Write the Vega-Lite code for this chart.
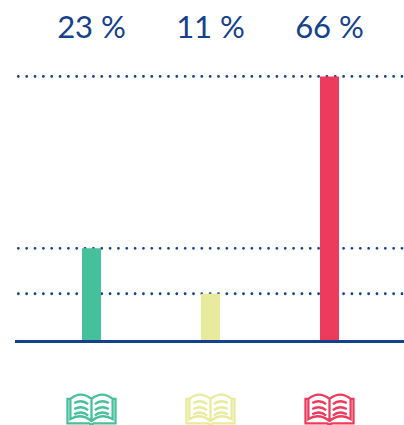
{"$schema":"https://vega.github.io/schema/vega-lite/v6.json","width":389,"height":425,"autosize":"none","padding":{"left":15,"top":0,"right":0,"bottom":0},"background":"white","view":{"stroke":null},
"data":{"values":[{"label":"23 %","value":23.2},{"label":"11 %","value":11.9},{"label":"66 %","value":66}]},
"layer":[
{"mark":{"type":"rule","stroke":"#15418c","strokeWidth":2.8,"strokeDash":[0.01,8.33],"strokeDashOffset":6.33,"strokeCap":"round"},"encoding":{"y":{"field":"value","type":"quantitative","scale":{"domain":[-20.9,84.9],"range":[425.5,0.5],"nice":false,"zero":false},"axis":null}}},
{"mark":{"type":"bar","size":19,"clip":false},"encoding":{"x":{"field":"label","type":"nominal","sort":null,"scale":{"range":[17,374],"paddingInner":0,"paddingOuter":0},"axis":null},"y":{"field":"value","type":"quantitative","axis":null},"y2":{"datum":0},"color":{"field":"label","type":"nominal","sort":null,"scale":{"range":["#45c09a","#e8eb9c","#ec3b5c"]},"legend":null}}},
{"mark":{"type":"rule","stroke":"#15418c","strokeWidth":3},"encoding":{"y":{"datum":0}}},
{"mark":{"type":"text","font":"Lato","fontWeight":400,"fontSize":31,"baseline":"middle","align":"center","color":"#15418c"},"encoding":{"x":{"field":"label","type":"nominal","sort":null},"y":{"datum":77.8},"text":{"field":"label"}}},
{"mark":{"type":"point","filled":false,"strokeWidth":2.3,"opacity":1,"shape":"M-0.88,-0.42 H-1 V0.6 H-0.1 Q0,0.68 0.1,0.6 H1 V-0.42 H0.88 M0,-0.42 Q-0.45,-0.78 -0.88,-0.42 V0.42 Q-0.45,0.15 0,0.5 Q0.45,0.15 0.88,0.42 V-0.42 Q0.45,-0.78 0,-0.42 V0.5 M-0.72,-0.25 Q-0.4,-0.42 -0.14,-0.2 M-0.72,0 Q-0.4,-0.17 -0.14,0.05 M-0.72,0.22 Q-0.4,0.05 -0.14,0.27 M0.72,-0.25 Q0.4,-0.42 0.14,-0.2 M0.72,0 Q0.4,-0.17 0.14,0.05 M0.72,0.22 Q0.4,0.05 0.14,0.27","size":2304},"encoding":{"x":{"field":"label","type":"nominal","sort":null},"y":{"datum":-16.8},"stroke":{"field":"label","type":"nominal","sort":null,"scale":{"range":["#45c09a","#e8eb9c","#ec3b5c"]},"legend":null}}}
]}
